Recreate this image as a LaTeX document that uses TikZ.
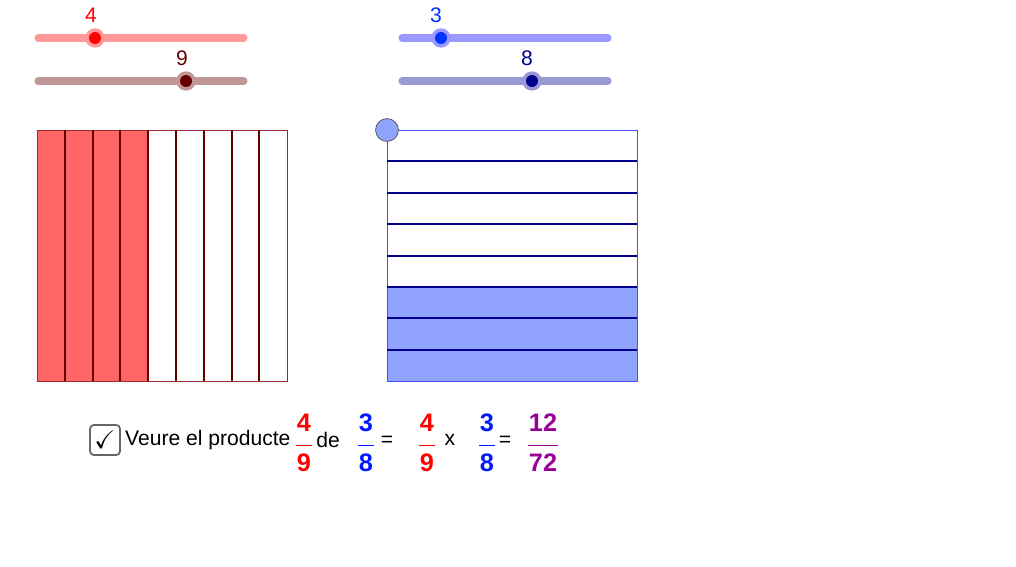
\documentclass[tikz,border=0pt]{standalone}
\usepackage{fontspec}
\setmainfont{Liberation Sans}
\usepackage{amssymb}
\definecolor{redfill}{RGB}{255,102,102}
\definecolor{redline}{RGB}{102,0,0}
\definecolor{redtrack}{RGB}{255,153,153}
\definecolor{browntrack}{RGB}{192,150,150}
\definecolor{bluefill}{RGB}{143,163,255}
\definecolor{blueline}{RGB}{0,0,140}
\definecolor{bluetrack}{RGB}{153,153,255}
\definecolor{navytrack}{RGB}{153,153,214}
\definecolor{purp}{RGB}{153,0,153}
\begin{document}
\begin{tikzpicture}[x=0.02cm,y=-0.02cm]
      \tikzstyle{track}=[line width=4pt,line cap=round]
      \tikzstyle{knob}=[circle,draw=black,minimum size=9pt,inner sep=0pt]
      \tikzstyle{val}=[font=\large]
      \tikzstyle{frac}=[font=\Large\bfseries,inner sep=1pt]
      \tikzstyle{word}=[font=\large]

      \useasboundingbox (0,0) rectangle (1016,567);

      % Sliders
      \draw[track,redtrack] (38,38) -- (244,38);
      \node[knob,fill=red,draw=redtrack,line width=2pt] (k1) at (95,38) {};
      \node[val,red] at (91,15) {4};
      \draw[track,browntrack] (38,81) -- (244,81);
      \node[knob,fill=redline,draw=browntrack,line width=2pt] (k2) at (186,81) {};
      \node[val,redline] at (182,58) {9};
      \draw[track,bluetrack] (402,38) -- (608,38);
      \node[knob,fill=blue!80!cyan,draw=bluetrack,line width=2pt] (k3) at (441,38) {};
      \node[val,blue!80!cyan] at (436,15) {3};
      \draw[track,navytrack] (402,81) -- (608,81);
      \node[knob,fill=blueline,draw=navytrack,line width=2pt] (k4) at (532,81) {};
      \node[val,blueline] at (527,58) {8};

      % Red square, 9 columns
      \fill[redfill] (37,130) rectangle (148,381);
      \draw[redline!60!redfill] (37,130) rectangle (287,381);
      \foreach \i in {1,...,8}
          \draw[redline,line width=1.2pt] (37+\i*27.8,130) -- (37+\i*27.8,381);

      % Blue square, 8 rows
      \fill[bluefill] (387,287) rectangle (637,381);
      \draw[blue!70] (387,130) rectangle (637,381);
      \foreach \j in {1,...,7}
          \draw[blueline,line width=1.2pt] (387,130+\j*31.4) -- (637,130+\j*31.4);
      \node[circle,draw=black!70,fill=bluefill,minimum size=13pt,inner sep=0pt] (pt) at (387,130) {};

      % Product
      \node[draw=black!60,rounded corners=2pt,minimum size=17pt,inner sep=0pt,line width=1pt] (box) at (105,440) {\Large$\checkmark$};
      \node[word,anchor=west] (txt) at (119,440) {Veure el producte};
      \foreach \x/\n/\d/\c/\nm in {304/4/9/red/a,366/3/8/blue!90!cyan/b,427/4/9/red/c,487/3/8/blue!90!cyan/d,543/12/72/purp/e} {
          \node[frac,\c] (n-\nm) at (\x,423) {\n};
          \node[frac,\c] (d-\nm) at (\x,463) {\d};
          \draw[\c] (\x-8,445) -- (\x+8,445);
      }
      \draw[purp] (528,445) -- (558,445);
      \node[word] (de) at (328,440) {de};
      \node[word] (eq1) at (387,441) {=};
      \node[word] (times) at (450,440) {x};
      \node[word] (eq2) at (505,441) {=};
  \end{tikzpicture}
\end{document}
